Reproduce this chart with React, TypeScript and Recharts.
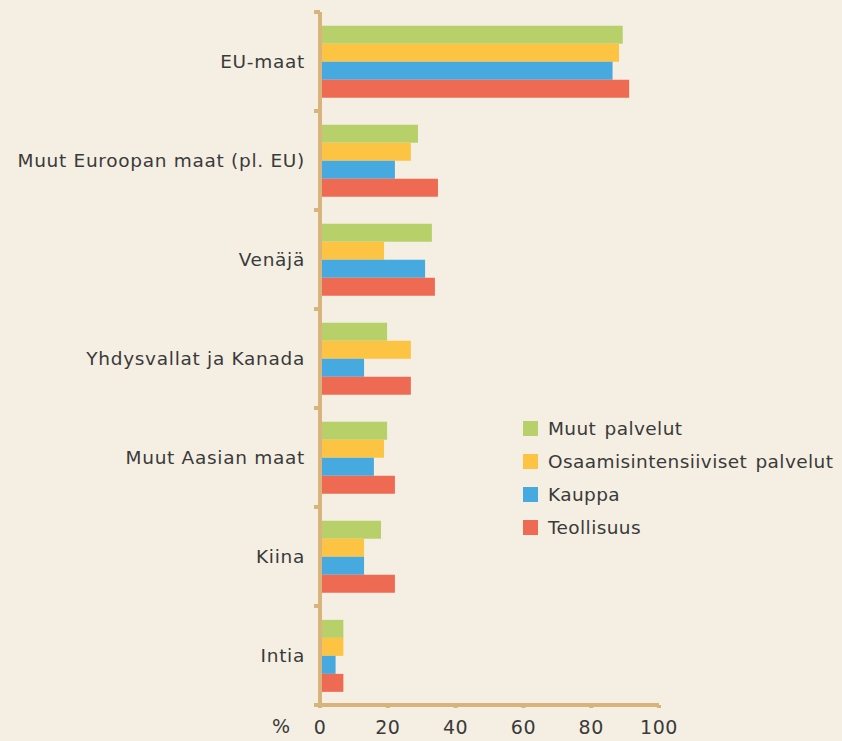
import React from 'react';
import { BarChart, Bar, XAxis, YAxis, Legend } from 'recharts';

const categories = ['EU-maat', 'Muut Euroopan maat (pl. EU)', 'Venäjä', 'Yhdysvallat ja Kanada', 'Muut Aasian maat', 'Kiina', 'Intia'];
const muutPalvelut = [89.3, 28.9, 33, 19.8, 19.8, 18, 6.9];
const osaamisintensiiviset = [88.2, 26.8, 18.9, 26.8, 18.9, 13, 6.9];
const kauppa = [86.3, 22.1, 31, 13, 15.9, 13, 4.6];
const teollisuus = [91.2, 34.8, 33.9, 26.8, 22.1, 22.1, 6.9];
const xTicks = [0, 20, 40, 60, 80, 100];

const seriesNames = ['Muut palvelut', 'Osaamisintensiiviset palvelut', 'Kauppa', 'Teollisuus'];
const colors = ['#b7d06a', '#fdc343', '#46a9df', '#ee6a53'];

const data = categories.map((c, i) => ({
  name: c,
  a: muutPalvelut[i],
  b: osaamisintensiiviset[i],
  c: kauppa[i],
  d: teollisuus[i],
}));

const AXIS = '#d8b47c';
const TEXT = '#3a3a3a';
const FONT = '"DejaVu Sans", sans-serif';

const CategoryTick = (props: any) => {
  const { x, y, payload, index, visibleTicksCount } = props;
  const half = payload && typeof payload.offset === 'number' && payload.offset > 0 ? payload.offset : 49.5;
  const axisX = x + 15;
  const isLast = index === (visibleTicksCount ?? categories.length) - 1;
  return (
    <g>
      <line x1={axisX - 6} x2={axisX} y1={y - half} y2={y - half} stroke={AXIS} strokeWidth={4} />
      {isLast && <line x1={axisX - 6} x2={axisX} y1={y + half} y2={y + half} stroke={AXIS} strokeWidth={4} />}
      <text x={x} y={y} dy={6} textAnchor="end" fill={TEXT} fontSize={18.5} fontFamily={FONT} letterSpacing={0.7}>
        {payload.value}
      </text>
    </g>
  );
};

const LegendContent = () => (
  <div style={{ fontFamily: FONT, fontSize: 18.5, letterSpacing: 0.4, wordSpacing: 2, color: TEXT }}>
    {seriesNames.map((n, i) => (
      <div key={n} style={{ display: 'flex', alignItems: 'center', height: 33, whiteSpace: 'nowrap' }}>
        <span style={{ width: 15, height: 15, flexShrink: 0, background: colors[i], display: 'inline-block', marginRight: 10 }} />
        <span>{n}</span>
      </div>
    ))}
  </div>
);

export default function App() {
  return (
    <div style={{ position: 'absolute', left: 0, top: 0, width: 842, height: 741, background: '#f5efe3' }}>
      <BarChart
        width={842}
        height={741}
        data={data}
        layout="vertical"
        margin={{ top: 12, right: 183, left: 0, bottom: 0 }}
        barCategoryGap="14%"
        barGap={0}
      >
        <XAxis
          type="number"
          domain={[0, 100]}
          ticks={xTicks}
          height={36}
          axisLine={{ stroke: AXIS, strokeWidth: 4 }}
          tickLine={{ stroke: AXIS, strokeWidth: 4 }}
          tickSize={3}
          tickMargin={13}
          tick={{ fill: TEXT, fontSize: 19, fontFamily: FONT, letterSpacing: 0.5 }}
        />
        <YAxis
          type="category"
          dataKey="name"
          width={320}
          axisLine={{ stroke: AXIS, strokeWidth: 4 }}
          tickLine={false}
          tickSize={8}
          tickMargin={7}
          tick={<CategoryTick />}
        />
        <Legend
          layout="vertical"
          verticalAlign="middle"
          align="center"
          wrapperStyle={{ left: 523, top: 412, width: 319 }}
          content={<LegendContent />}
        />
        <Bar dataKey="a" name={seriesNames[0]} fill={colors[0]} isAnimationActive={false} />
        <Bar dataKey="b" name={seriesNames[1]} fill={colors[1]} isAnimationActive={false} />
        <Bar dataKey="c" name={seriesNames[2]} fill={colors[2]} isAnimationActive={false} />
        <Bar dataKey="d" name={seriesNames[3]} fill={colors[3]} isAnimationActive={false} />
      </BarChart>
      <div style={{ position: 'absolute', left: 272, top: 715, fontFamily: FONT, fontSize: 19, color: TEXT }}>%</div>
    </div>
  );
}
